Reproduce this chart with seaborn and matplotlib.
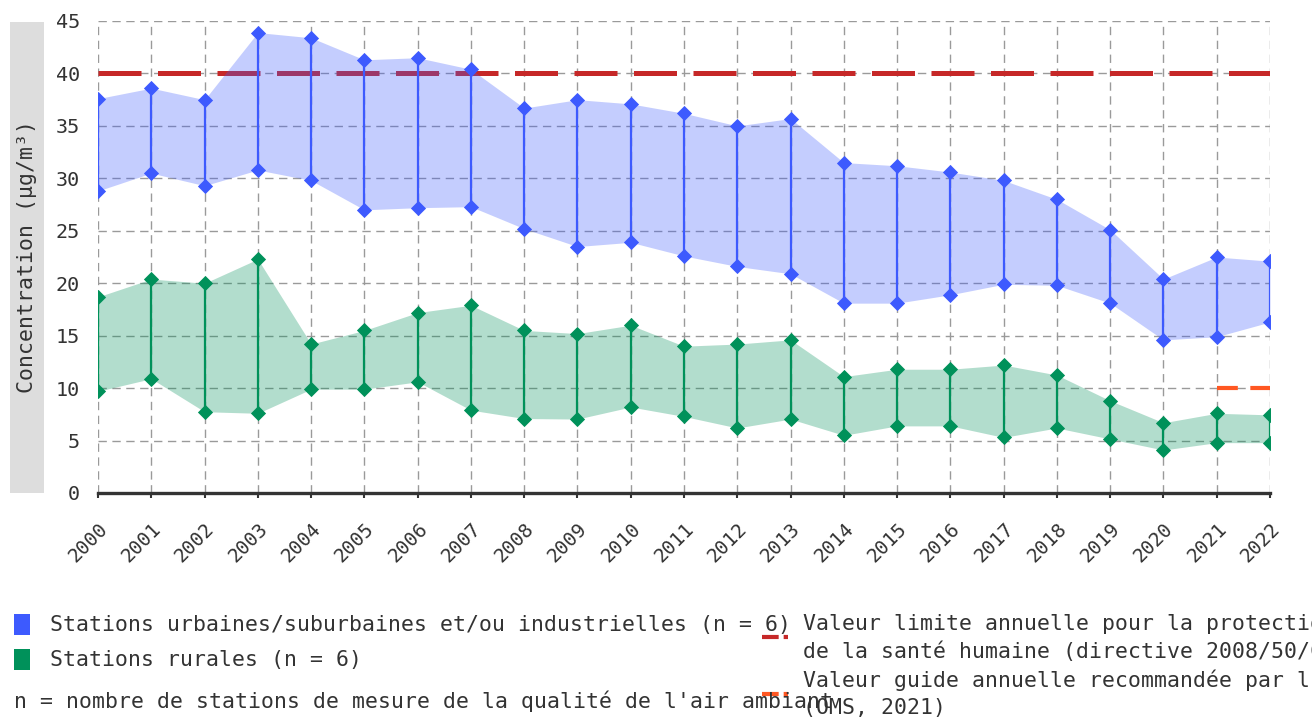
import numpy as np
import pandas as pd
import matplotlib
matplotlib.use("Agg")
import matplotlib.pyplot as plt
from matplotlib.patches import Rectangle
from matplotlib.lines import Line2D
import seaborn as sns

years = list(range(2000, 2023))
urban_max = [37.6, 38.6, 37.5, 43.9, 43.4, 41.3, 41.5, 40.4, 36.7, 37.5, 37.1, 36.2,
             35.0, 35.7, 31.5, 31.2, 30.6, 29.8, 28.0, 25.1, 20.4, 22.5, 22.1]
urban_min = [28.8, 30.5, 29.3, 30.8, 29.8, 27.0, 27.2, 27.3, 25.2, 23.5, 23.9, 22.6,
             21.6, 20.9, 18.1, 18.1, 18.9, 19.9, 19.8, 18.1, 14.6, 14.9, 16.3]
rural_max = [18.7, 20.4, 20.0, 22.3, 14.2, 15.5, 17.2, 17.9, 15.5, 15.2, 16.0, 14.0,
             14.2, 14.6, 11.1, 11.8, 11.8, 12.2, 11.25, 8.8, 6.7, 7.6, 7.45]
rural_min = [9.7, 10.9, 7.75, 7.6, 9.9, 9.9, 10.6, 7.9, 7.1, 7.05, 8.2, 7.3,
             6.2, 7.05, 5.5, 6.4, 6.4, 5.3, 6.2, 5.15, 4.1, 4.8, 4.8]
limit_value = 40
who_value = 10
who_years = [2021, 2022]

label_urban = "Stations urbaines/suburbaines et/ou industrielles (n = 6)"
label_rural = "Stations rurales (n = 6)"
note_text = "n = nombre de stations de mesure de la qualité de l'air ambiant"
label_limit = "Valeur limite annuelle pour la protection\nde la santé humaine (directive 2008/50/CE)"
label_who = "Valeur guide annuelle recommandée par l'OMS\n(OMS, 2021)"
ylabel = "Concentration (µg/m³)"

BLUE = "#3d5afe"
GREEN = "#00915a"
RED = "#c62828"
ORANGE = "#ff5722"
TXT = "#333333"

sns.set_theme(style="white")
plt.rcParams['font.family'] = ['DejaVu Sans Mono', 'DejaVu Sans']

W, H = 1312, 718
fig = plt.figure(figsize=(W / 100, H / 100), dpi=100)
ax = fig.add_axes([98 / W, 1 - 493 / H, (1270 - 98) / W, (493 - 21) / H])

df = pd.DataFrame({"year": years, "umax": urban_max, "umin": urban_min,
                   "rmax": rural_max, "rmin": rural_min})

# limit line (beneath fills)
ax.plot([years[0], years[-1]], [limit_value, limit_value], color=RED, lw=3.6,
        linestyle=(0, (8.6, 3.3)), zorder=1.2, solid_capstyle='butt', dash_capstyle='butt')
ax.plot(who_years, [who_value, who_value], color=ORANGE, lw=3.0,
        linestyle=(0, (5.0, 3.0)), zorder=1.2, dash_capstyle='butt')

ax.fill_between(df["year"], df["umin"], df["umax"], color=BLUE, alpha=0.3, lw=0, zorder=1.5)
ax.fill_between(df["year"], df["rmin"], df["rmax"], color=GREEN, alpha=0.3, lw=0, zorder=1.5)

ax.vlines(df["year"], df["umin"], df["umax"], color=BLUE, lw=1.6, zorder=3)
ax.vlines(df["year"], df["rmin"], df["rmax"], color=GREEN, lw=1.6, zorder=3)

for col, c in [("umax", BLUE), ("umin", BLUE), ("rmax", GREEN), ("rmin", GREEN)]:
    sns.scatterplot(data=df, x="year", y=col, ax=ax, marker="D", s=60, color=c,
                    edgecolor=c, linewidth=0, zorder=4, legend=False)

ax.set_xlim(2000, 2022)
ax.set_ylim(0, 45)
ax.set_xticks(years)
ax.set_xticklabels([str(y) for y in years], rotation=45, ha="right",
                   rotation_mode="anchor", fontsize=14, color=TXT)
ax.set_yticks(range(0, 46, 5))
ax.set_yticklabels([str(v) for v in range(0, 46, 5)], fontsize=14.5, color=TXT)
ax.tick_params(axis="y", length=0, pad=13)
ax.tick_params(axis="x", length=3.6, width=1.5, color=TXT, pad=15, bottom=True)
ax.set_xlabel("")
ax.set_ylabel("")

ax.grid(True, which="major", axis="both", color="#9a9a9a", linestyle=(0, (6, 4)), lw=1.0, zorder=0)
ax.set_axisbelow(True)
for s in ["left", "right", "top"]:
    ax.spines[s].set_visible(False)
ax.spines["bottom"].set_color(TXT)
ax.spines["bottom"].set_linewidth(2.4)
ax.spines["bottom"].set_zorder(5)

# y label box
fig.add_artist(Rectangle((10 / W, 1 - 493 / H), 34 / W, (493 - 22) / H,
                         transform=fig.transFigure, facecolor="#dddddd", edgecolor="none"))
fig.text(27 / W, 1 - 257 / H, ylabel, rotation=90, ha="center", va="center",
         fontsize=15.5, color=TXT)

# legend
def fy(py):
    return 1 - py / H

fig.add_artist(Rectangle((14 / W, fy(635)), 16 / W, 21 / H, transform=fig.transFigure,
                         facecolor=BLUE, edgecolor="none"))
fig.text(50 / W, fy(625), label_urban, ha="left", va="center", fontsize=15.5, color=TXT)
fig.add_artist(Rectangle((14 / W, fy(670)), 16 / W, 21 / H, transform=fig.transFigure,
                         facecolor=GREEN, edgecolor="none"))
fig.text(50 / W, fy(660), label_rural, ha="left", va="center", fontsize=15.5, color=TXT)
fig.text(14 / W, fy(701), note_text, ha="left", va="center", fontsize=15.5, color=TXT)

fig.add_artist(Line2D([762 / W, 788 / W], [fy(637), fy(637)], transform=fig.transFigure,
                      color=RED, lw=3, linestyle=(0, (4.0, 1.2))))
fig.text(803 / W, fy(638), label_limit, ha="left", va="center", fontsize=15.5, color=TXT,
         linespacing=1.45)
fig.add_artist(Line2D([762 / W, 788 / W], [fy(694), fy(694)], transform=fig.transFigure,
                      color=ORANGE, lw=3, linestyle=(0, (4.0, 1.2))))
fig.text(803 / W, fy(694), label_who, ha="left", va="center", fontsize=15.5, color=TXT,
         linespacing=1.45)

fig.savefig("out.png", dpi=100, facecolor="white")
